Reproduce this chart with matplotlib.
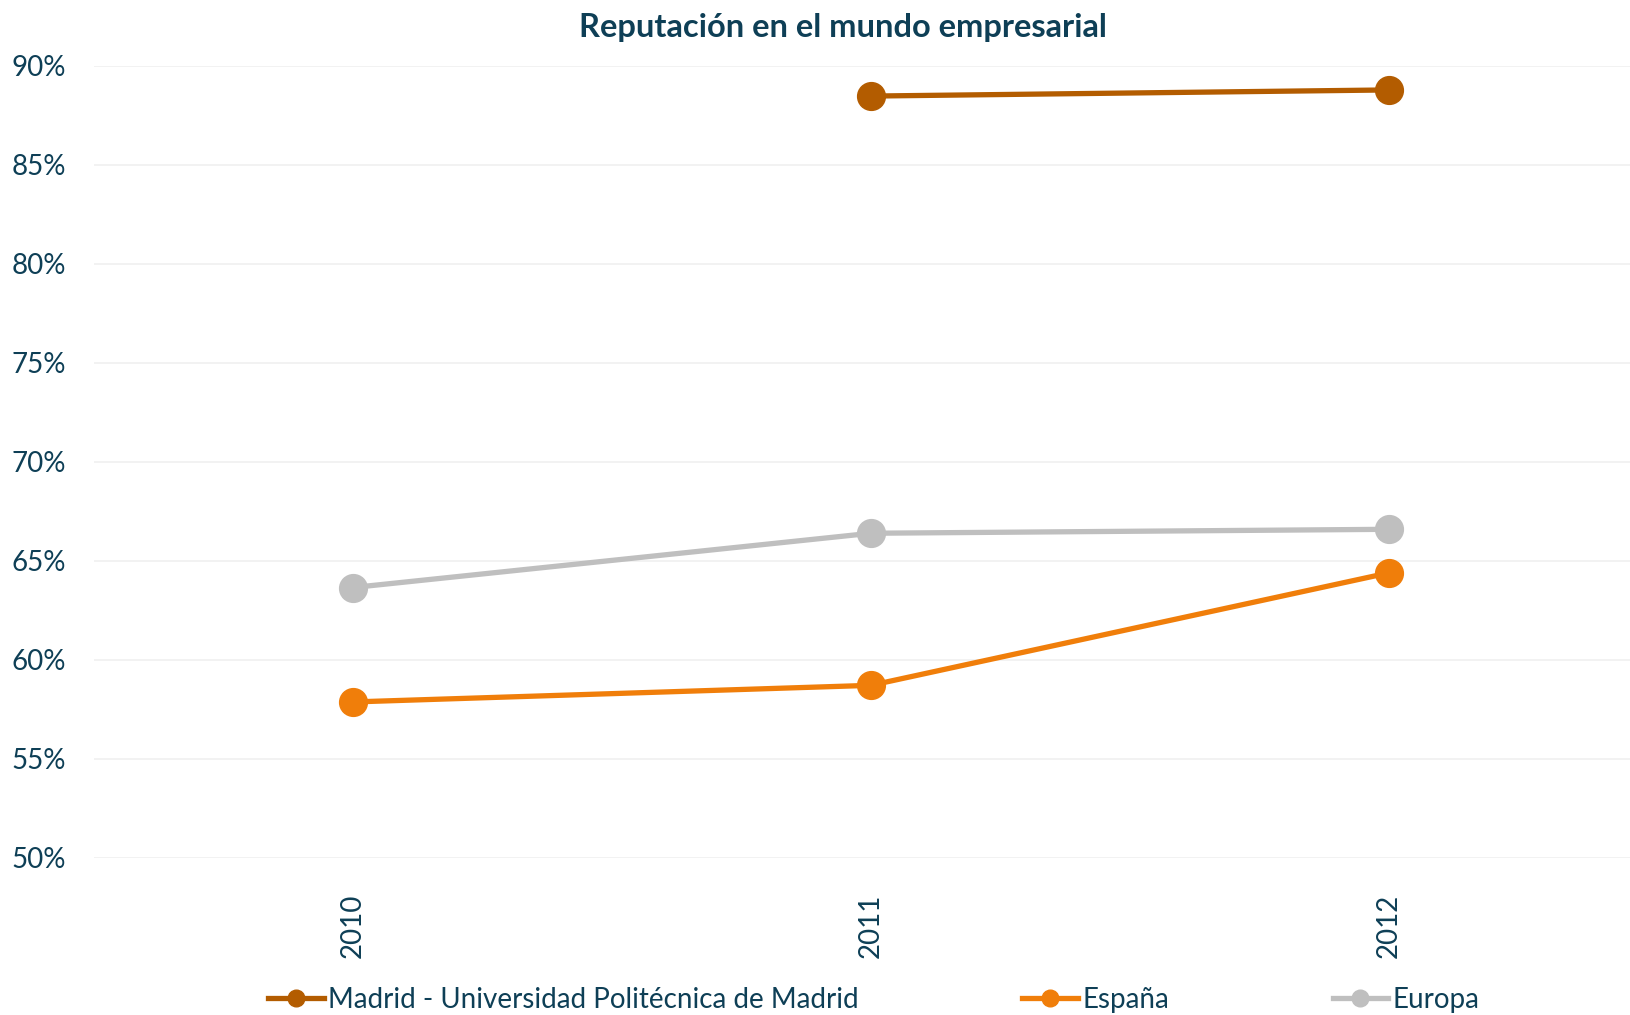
import matplotlib.pyplot as plt
import numpy as np
from matplotlib.ticker import PercentFormatter

plt.rcParams['font.family'] = ['Lato', 'DejaVu Sans']

# data
years = ['2010', '2011', '2012']
madrid = [np.nan, 88.48, 88.79]
espana = [57.88, 58.72, 64.40]
europa = [63.66, 66.40, 66.60]
labels = ['Madrid - Universidad Politécnica de Madrid', 'España', 'Europa']
colors = ['#B35C00', '#F07E0A', '#BFBFBF']
textColor = '#0E3F56'

fig = plt.figure(figsize=(16.3, 10.15), dpi=100)
ax = fig.add_axes([0.0577, 0.1547, 1.011 - 0.0577, 0.935 - 0.1547])

x = np.arange(len(years))
for vals, lab, col in zip([madrid, espana, europa], labels, colors):
    ax.plot(x, vals, color=col, lw=3.8, marker='o', markersize=20,
            label=lab, clip_on=False, zorder=3)

ax.set_xlim(-0.5, 2.5)
ax.set_ylim(50, 90)
ax.set_yticks(np.arange(50, 91, 5))
ax.yaxis.set_major_formatter(PercentFormatter(decimals=0))
ax.set_xticks(x)
ax.set_xticklabels(years, rotation=90)
ax.grid(axis='y', color='#F0F0F0', lw=1.2)
ax.set_axisbelow(True)
for s in ax.spines.values():
    s.set_visible(False)
ax.tick_params(axis='both', length=0, labelsize=20, colors=textColor)
ax.tick_params(axis='x', pad=26)
ax.tick_params(axis='y', pad=20)

fig.text(0.517, 1 - 28 / 1015, 'Reputación en el mundo empresarial',
         ha='center', va='center', fontsize=23.5, fontweight='bold', color=textColor)

leg = fig.legend(loc='center', bbox_to_anchor=(0.536, 1 - 1000 / 1015), ncol=3,
                 frameon=False, fontsize=20, handlelength=2.0, handletextpad=0.15,
                 columnspacing=5.9, markerscale=0.6)
for t in leg.get_texts():
    t.set_color(textColor)

fig.savefig('out.png', dpi=100)
